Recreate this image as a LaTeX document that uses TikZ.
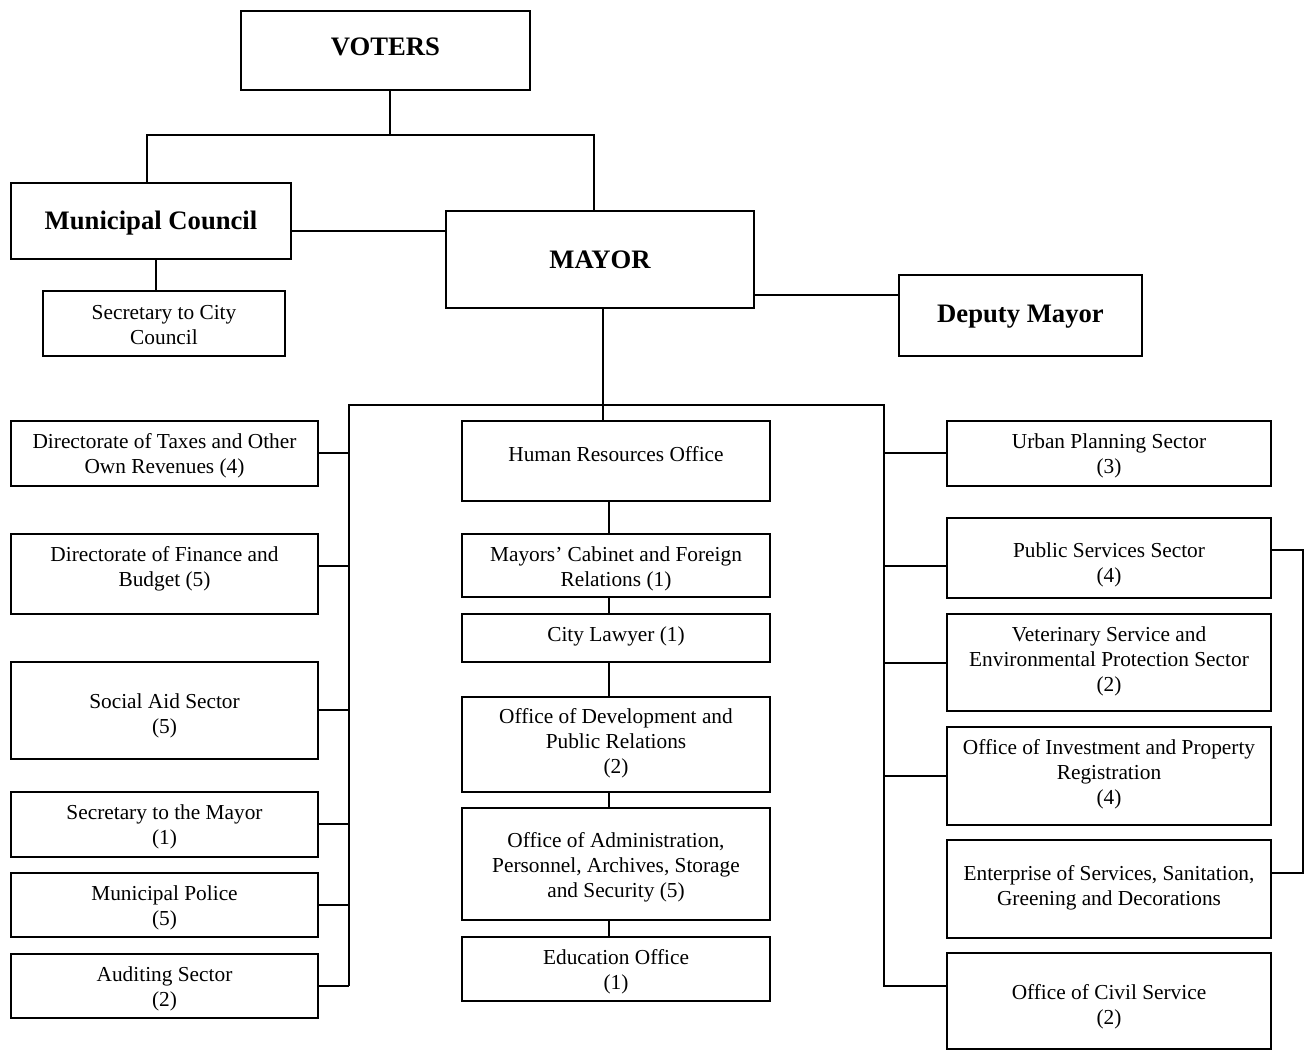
\documentclass[tikz,border=0pt]{standalone}
\usepackage{fontspec}
\setmainfont{Liberation Serif}
\usetikzlibrary{fit}
\tikzset{
  boxline/.style={draw=black, line width=1.6pt, inner sep=0pt, outer sep=0pt},
  txt/.style={align=center, inner sep=0pt, font=\fontsize{16}{18.75}\selectfont},
  conn/.style={draw=black, line width=1.6pt},
}
\newcommand\obox[7]{%
  \node[boxline, fit={(#2,#3) (#4,#5)}] (#1) {};
  \node[txt] (#1-t) at ({(#2+#4)/2},{#6+2}) {#7};}
\newcommand\ttl[1]{{\bfseries\fontsize{20}{24}\selectfont #1}}
\begin{document}
\begin{tikzpicture}[x=0.75pt,y=-0.75pt]
\useasboundingbox (0,0) rectangle (1309,1050);
% top
\obox{voters}{241}{11}{530}{90}{45}{\ttl{VOTERS}}
\obox{mc}{11}{183}{291}{259}{221}{\ttl{Municipal Council}}
\obox{sec}{43}{291}{285}{356}{323.5}{Secretary to City\\Council}
\obox{mayor}{446}{211}{754}{308}{258}{\ttl{MAYOR}}
\obox{deputy}{899}{275}{1142}{356}{315}{\ttl{Deputy Mayor}}
% left column
\obox{tax}{11}{421}{318}{486}{453.5}{Directorate of Taxes and Other\\Own Revenues (4)}
\obox{fin}{11}{534}{318}{614}{566.5}{Directorate of Finance and\\Budget (5)}
\obox{soc}{11}{662}{318}{759}{713.5}{Social Aid Sector\\(5)}
\obox{secm}{11}{792}{318}{857}{824.5}{Secretary to the Mayor\\(1)}
\obox{pol}{11}{873}{318}{937}{905.5}{Municipal Police\\(5)}
\obox{aud}{11}{954}{318}{1018}{986.5}{Auditing Sector\\(2)}
% middle column
\obox{hr}{462}{421}{770}{501}{452}{Human Resources Office}
\obox{cab}{462}{534}{770}{597}{566.5}{Mayors' Cabinet and Foreign\\Relations (1)}
\obox{law}{462}{614}{770}{662}{634.5}{City Lawyer (1)}
\obox{dev}{462}{697}{770}{792}{741}{Office of Development and\\Public Relations\\(2)}
\obox{adm}{462}{808}{770}{920}{865}{Office of Administration,\\Personnel, Archives, Storage\\and Security (5)}
\obox{edu}{462}{937}{770}{1001}{969.5}{Education Office\\(1)}
% right column
\obox{urb}{947}{421}{1271}{486}{453.5}{Urban Planning Sector\\(3)}
\obox{pub}{947}{518}{1271}{598}{562.5}{Public Services Sector\\(4)}
\obox{vet}{947}{614}{1271}{711}{659}{Veterinary Service and\\Environmental Protection Sector\\(2)}
\obox{inv}{947}{727}{1271}{825}{772}{Office of Investment and Property\\Registration\\(4)}
\obox{ent}{947}{840}{1271}{938}{885.5}{Enterprise of Services, Sanitation,\\Greening and Decorations}
\obox{civ}{947}{953}{1271}{1049}{1004.5}{Office of Civil Service\\(2)}
% junction coordinates
\coordinate (vj) at (390,135);
\coordinate (vl) at (147,135);
\coordinate (vr) at (594,135);
\coordinate (busL) at (349,405);
\coordinate (busR) at (884,405);
\coordinate (brT) at (1303,550);
\coordinate (brB) at (1303,873);
% voters to council and mayor
\draw[conn] (voters.south -| vj) -- (vj);
\draw[conn] (mc.north -| vl) -- (vl) -- (vr) -- (mayor.north -| vr);
\draw[conn] (mc.east |- 0,231) -- (mayor.west |- 0,231);
\draw[conn] (mc.south -| 156,0) -- (sec.north -| 156,0);
\draw[conn] (mayor.east |- 0,295) -- (deputy.west |- 0,295);
% mayor down to bus
\draw[conn] (mayor.south -| 603,0) -- (hr.north -| 603,0);
\draw[conn] (busL |- aud.east) -- (busL) -- (busR) -- (busR |- 0,986) -- (civ.west |- 0,986);
\draw[conn] (aud.east |- 0,986) -- (busL |- 0,986);
% left branches
\draw[conn] (tax.east |- 0,453) -- (busL |- 0,453);
\draw[conn] (fin.east |- 0,566) -- (busL |- 0,566);
\draw[conn] (soc.east |- 0,710) -- (busL |- 0,710);
\draw[conn] (secm.east |- 0,824) -- (busL |- 0,824);
\draw[conn] (pol.east |- 0,905) -- (busL |- 0,905);
% right branches
\draw[conn] (busR |- 0,453) -- (urb.west |- 0,453);
\draw[conn] (busR |- 0,566) -- (pub.west |- 0,566);
\draw[conn] (busR |- 0,663) -- (vet.west |- 0,663);
\draw[conn] (busR |- 0,776) -- (inv.west |- 0,776);
% bracket public services to enterprise
\draw[conn] (pub.east |- brT) -- (brT) -- (brB) -- (ent.east |- brB);
% middle chain
\draw[conn] (hr.south -| 609,0) -- (cab.north -| 609,0);
\draw[conn] (cab.south -| 609,0) -- (law.north -| 609,0);
\draw[conn] (law.south -| 609,0) -- (dev.north -| 609,0);
\draw[conn] (dev.south -| 609,0) -- (adm.north -| 609,0);
\draw[conn] (adm.south -| 609,0) -- (edu.north -| 609,0);
\end{tikzpicture}
\end{document}
